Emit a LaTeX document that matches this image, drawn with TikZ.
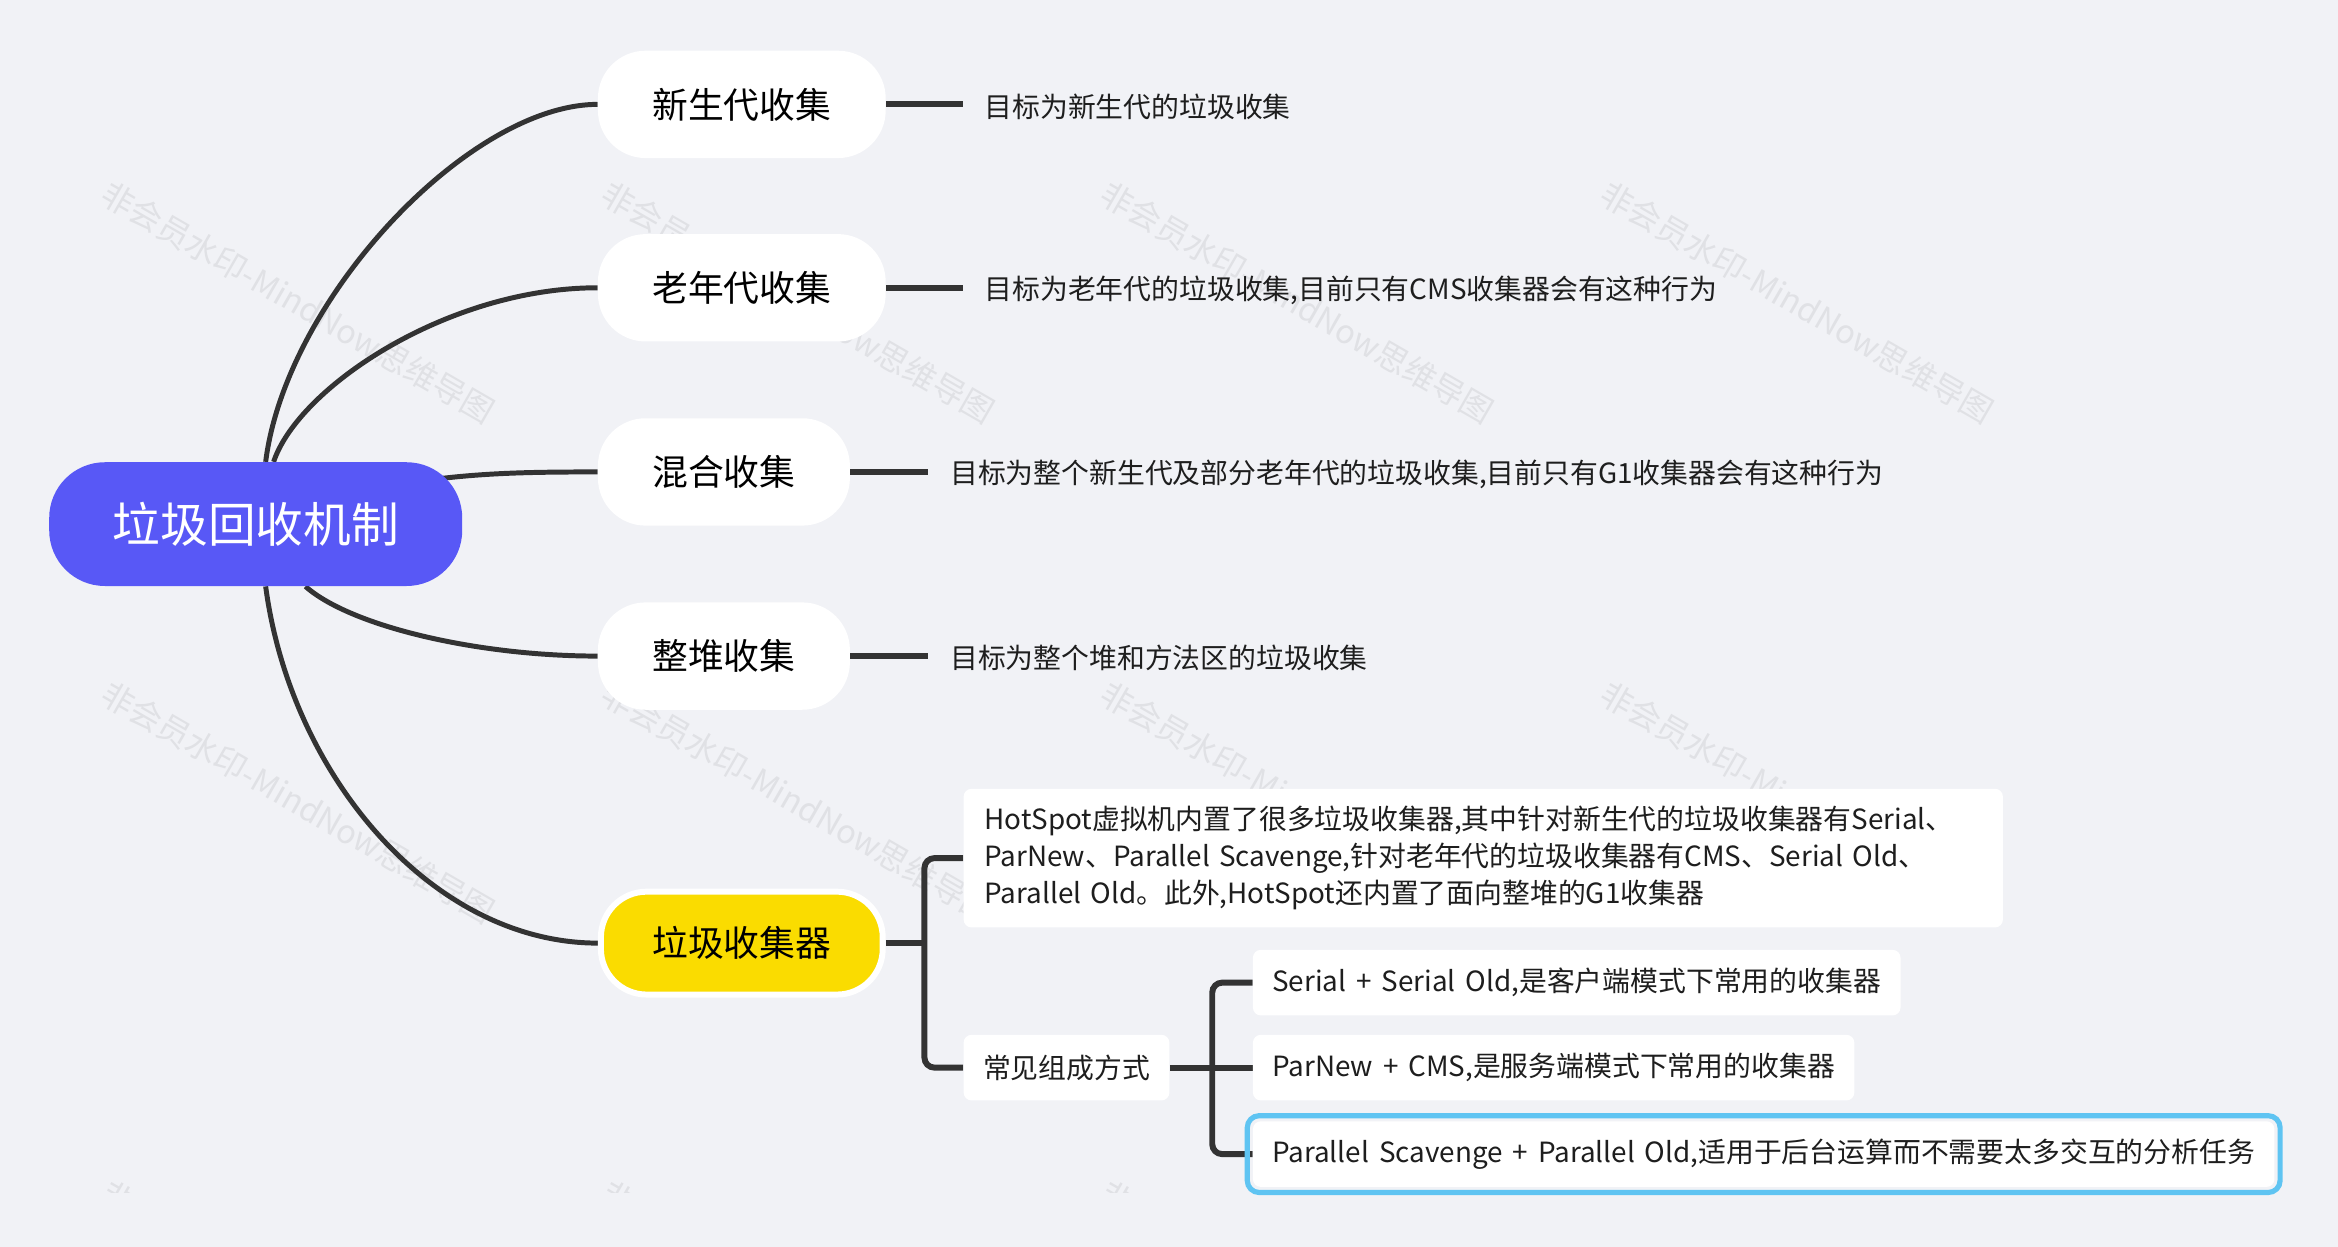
\documentclass[tikz,border=0pt]{standalone}
\usepackage{fontspec}
\setmainfont{Noto Sans CJK SC}[WordSpace=1.6]
\definecolor{bgc}{RGB}{241,242,246}
\definecolor{rootc}{RGB}{88,88,246}
\definecolor{yel}{RGB}{250,220,0}
\definecolor{ln}{RGB}{51,51,51}
\definecolor{wm}{RGB}{224,225,229}
\definecolor{sel}{RGB}{95,196,242}
\definecolor{txt}{RGB}{30,30,30}
\pgfdeclarelayer{back}
\pgfdeclarelayer{conn}
\pgfsetlayers{back,conn,main}
\begin{document}
\begin{tikzpicture}[x=0.75pt,y=-0.75pt,
 rootnode/.style={fill=rootc, text=white, rounded corners=28pt, minimum width=207.75pt, minimum height=62.25pt, font=\fontsize{24pt}{28pt}\selectfont, inner sep=0pt},
 topic/.style={fill=white, rounded corners=24pt, minimum height=54pt, font=\fontsize{18pt}{22pt}\selectfont, inner sep=0pt, text=black},
 desc/.style={anchor=west, inner sep=0pt, font=\fontsize{14pt}{18.5pt}\selectfont, text=txt},
 sub/.style={fill=white, rounded corners=4pt, anchor=west, inner xsep=9.75pt, inner ysep=0pt, minimum height=33pt, font=\fontsize{14pt}{18.5pt}\selectfont, text=txt},
 curve/.style={draw=ln, line width=2.5pt},
 stub/.style={draw=ln, line width=3.1pt},
 brk/.style={draw=ln, line width=3pt, rounded corners=5pt},
 wmark/.style={text=wm, rotate=-30, anchor=west, inner sep=0pt, font=\fontsize{16.3pt}{19pt}\selectfont}
]
\useasboundingbox (0,0) rectangle (1568,836);
\begin{pgfonlayer}{back}
\fill[bgc] (0,0) rectangle (1568,836);
\foreach \x in {70,405,740,1075}{
  \foreach \y in {128,463}{
    \node[wmark] (wm-\x-\y) at (\x,\y) {非会员水印-MindNow思维导图};
  }
}
\begin{scope}
\clip (0,0) rectangle (1568,800);
\foreach \x in {70,405,740}{
  \node[wmark] (wmb-\x) at (\x,798) {非会员水印-MindNow思维导图};
}
\end{scope}
\end{pgfonlayer}

% nodes
\node[rootnode] (root) at (171.5,351.5) {垃圾回收机制};
\node[topic, minimum width=144.75pt] (t1) at (497.5,70) {新生代收集};
\node[topic, minimum width=144.75pt] (t2) at (497.5,193) {老年代收集};
\node[topic, minimum width=126.75pt] (t3) at (485.5,316.5) {混合收集};
\node[topic, minimum width=126.75pt] (t4) at (485.5,440) {整堆收集};
\node[topic, fill=yel, draw=white, line width=3pt, minimum width=141.75pt, minimum height=51.75pt, rounded corners=23pt] (t5) at (497.5,632.5) {垃圾收集器};

\node[desc] (d1) at (660,71.5) {目标为新生代的垃圾收集};
\node[desc] (d2) at (660,194.5) {目标为老年代的垃圾收集,目前只有CMS收集器会有这种行为};
\node[desc] (d3) at (637,318) {目标为整个新生代及部分老年代的垃圾收集,目前只有G1收集器会有这种行为};
\node[desc] (d4) at (637,441.5) {目标为整个堆和方法区的垃圾收集};

\node[fill=white, rounded corners=4pt, anchor=west, text width=501.75pt, inner xsep=10.5pt, inner ysep=0pt, minimum height=69.75pt, align=left, text=txt, font=\fontsize{14pt}{18.5pt}\selectfont] (ha) at (646,575.5) {HotSpot虚拟机内置了很多垃圾收集器,其中针对新生代的垃圾收集器有Serial、\\ParNew、Parallel Scavenge,针对老年代的垃圾收集器有CMS、Serial Old、\\Parallel Old。此外,HotSpot还内置了面向整堆的G1收集器};
\node[sub] (hb) at (646,716) {常见组成方式};
\node[sub] (c1) at (840,659) {Serial + Serial Old,是客户端模式下常用的收集器};
\node[sub] (c2) at (840,716) {ParNew + CMS,是服务端模式下常用的收集器};
\node[sub] (c3) at (840,774) {Parallel Scavenge + Parallel Old,适用于后台运算而不需要太多交互的分析任务};
\draw[sel, line width=2.6pt, rounded corners=6pt] ([shift={(-3.5,-3.5)}]c3.north west) rectangle ([shift={(3.5,3.5)}]c3.south east);

\coordinate (j1) at (620,632.5);
\coordinate (j2) at (813,716);

\begin{pgfonlayer}{conn}
\draw[curve] ([xshift=5pt]root.north) .. controls (192,200) and (315,70) .. (t1.west);
\draw[curve] ([xshift=9pt]root.north) .. controls (200,260) and (300,193) .. (t2.west);
\draw[curve] ([shift={(-13,11)}]root.north east) .. controls (330,317) and (360,316.5) .. (t3.west);
\draw[curve] ([xshift=25pt]root.south) .. controls (235,420) and (320,440) .. (t4.west);
\draw[curve] ([xshift=5pt]root.south) .. controls (195,520) and (290,632.5) .. (t5.west);

\draw[stub, shorten >=10.5pt] (t1.east) -- (d1.west |- t1.east);
\draw[stub, shorten >=10.5pt] (t2.east) -- (d2.west |- t2.east);
\draw[stub, shorten >=11pt] (t3.east) -- (d3.west |- t3.east);
\draw[stub, shorten >=11pt] (t4.east) -- (d4.west |- t4.east);

\draw[stub] (t5.east) -- (j1);
\draw[brk] (ha.west) -| (j1) |- (hb.west);
\draw[stub] (hb.east) -- (j2);
\draw[brk] (c1.west) -| (j2) |- (c3.west);
\draw[stub] (c2.west) -- (j2);
\end{pgfonlayer}
\end{tikzpicture}
\end{document}
